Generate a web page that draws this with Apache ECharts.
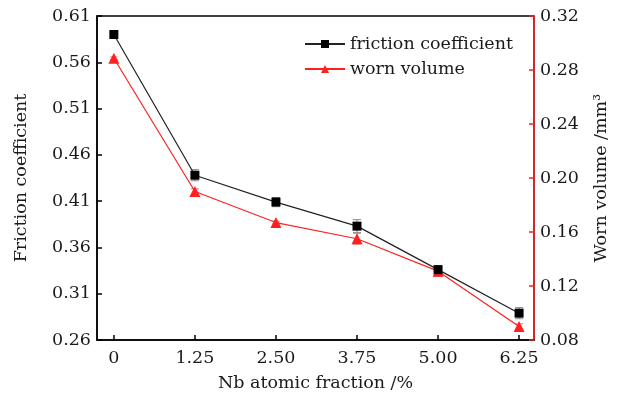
<!DOCTYPE html>
<html><head><meta charset="utf-8">
<script src="https://cdn.jsdelivr.net/npm/echarts@6/dist/echarts.min.js"></script>
<style>html,body{margin:0;padding:0;background:#fff}#c{width:617px;height:396px}</style>
</head><body><div id="c"></div>
<script>
const xValues = [0, 1.25, 2.50, 3.75, 5.00, 6.25];
const xLabels = ['0', '1.25', '2.50', '3.75', '5.00', '6.25'];
const friction = [0.590, 0.438, 0.409, 0.383, 0.336, 0.289];
const frictionErr = [0.002, 0.006, 0.005, 0.007, 0.004, 0.006];
const worn = [0.2887, 0.190, 0.167, 0.155, 0.131, 0.090];
const wornErr = [0.001, 0.002, 0.001, 0.004, 0.004, 0.002];

const FONT = 'DejaVu Serif';
const FS = 17.5;
const TXT = '#1a1a1a';
const chart = echarts.init(document.getElementById('c'));

function errSeries(vals, errs, yIdx, color) {
  return {
    type: 'custom', yAxisIndex: yIdx, silent: true, z: 1,
    data: xValues.map((x, i) => [x, vals[i] - errs[i], vals[i] + errs[i]]),
    renderItem: function (params, api) {
      const lo = api.coord([api.value(0), api.value(1)]);
      const hi = api.coord([api.value(0), api.value(2)]);
      const w = 4;
      const st = {stroke: color, lineWidth: 1};
      return {type: 'group', children: [
        {type: 'line', shape: {x1: lo[0], y1: lo[1], x2: hi[0], y2: hi[1]}, style: st},
        {type: 'line', shape: {x1: lo[0] - w, y1: lo[1], x2: lo[0] + w, y2: lo[1]}, style: st},
        {type: 'line', shape: {x1: hi[0] - w, y1: hi[1], x2: hi[0] + w, y2: hi[1]}, style: st}
      ]};
    }
  };
}

chart.setOption({
  animation: false,
  textStyle: {fontFamily: FONT},
  grid: {left: 97, right: 83, top: 16, bottom: 56, outerBoundsMode: 'none', containLabel: false,
    show: true, borderColor: '#000', borderWidth: 1.5},
  legend: {
    orient: 'vertical', left: 299, top: 30, itemWidth: 40, itemHeight: 10, itemGap: 7,
    textStyle: {fontFamily: FONT, fontSize: FS, color: TXT},
    data: ['friction coefficient', 'worn volume']
  },
  xAxis: {
    type: 'value', min: -0.26, max: 6.48,
    name: 'Nb atomic fraction /%', nameLocation: 'middle', nameGap: 34,
    nameTextStyle: {fontFamily: FONT, fontSize: FS, color: TXT},
    axisLine: {onZero: false, lineStyle: {color: '#000', width: 1.5}},
    axisTick: {inside: true, length: 5, customValues: xValues, lineStyle: {color: '#000', width: 1.5}},
    axisLabel: {customValues: xValues, fontFamily: FONT, fontSize: FS, color: TXT, margin: 9,
      formatter: v => { const i = xValues.indexOf(v); return i >= 0 ? xLabels[i] : ''; }},
    splitLine: {show: false}
  },
  yAxis: [{
    type: 'value', min: 0.26, max: 0.61, interval: 0.05, position: 'left',
    name: 'Friction coefficient', nameLocation: 'middle', nameGap: 67, nameRotate: 90,
    nameTextStyle: {fontFamily: FONT, fontSize: FS, color: TXT},
    axisLine: {show: true, onZero: false, lineStyle: {color: '#000', width: 1.5}},
    axisTick: {show: true, inside: true, length: 5, lineStyle: {color: '#000', width: 1.5}},
    axisLabel: {fontFamily: FONT, fontSize: FS, color: TXT, margin: 6, formatter: v => v.toFixed(2)},
    splitLine: {show: false}
  }, {
    type: 'value', min: 0.08, max: 0.32, interval: 0.04, position: 'right',
    name: 'Worn volume /mm³', nameLocation: 'middle', nameGap: 58, nameRotate: 90,
    nameTextStyle: {fontFamily: FONT, fontSize: FS, color: TXT},
    axisLine: {show: true, onZero: false, lineStyle: {color: '#ff2020', width: 1.5}},
    axisTick: {show: true, inside: true, length: 5, lineStyle: {color: '#ff2020', width: 1.5}},
    axisLabel: {fontFamily: FONT, fontSize: FS, color: TXT, margin: 6, formatter: v => v.toFixed(2)},
    splitLine: {show: false}
  }],
  series: [
    errSeries(friction, frictionErr, 0, '#888'),
    errSeries(worn, wornErr, 1, '#f08080'),
    {
      name: 'friction coefficient', type: 'line', yAxisIndex: 0, z: 3,
      data: xValues.map((x, i) => [x, friction[i]]),
      symbol: 'rect', symbolSize: 9, showAllSymbol: true,
      lineStyle: {color: '#222', width: 1.2}, itemStyle: {color: '#000'}
    },
    {
      name: 'worn volume', type: 'line', yAxisIndex: 1, z: 2,
      data: xValues.map((x, i) => [x, worn[i]]),
      symbol: 'triangle', symbolSize: 11, showAllSymbol: true,
      lineStyle: {color: '#ff2020', width: 1.2}, itemStyle: {color: '#ff2020'}
    }
  ]
});
</script></body></html>
